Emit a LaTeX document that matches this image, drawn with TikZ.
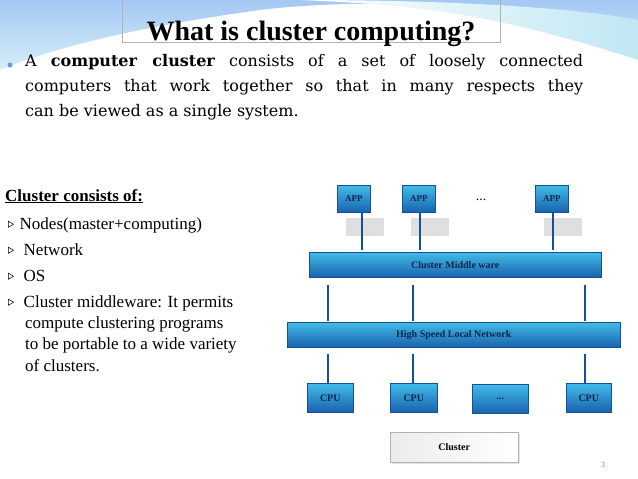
\documentclass[tikz,border=0pt]{standalone}
\usepackage{fontspec}
\setmainfont{Liberation Serif}
\newfontfamily\dvs{DejaVu Serif}
\usetikzlibrary{shadows}
\definecolor{boxblue}{RGB}{30,115,205}
\definecolor{boxdark}{RGB}{20,80,150}
\definecolor{sky}{RGB}{150,215,235}
\tikzset{
  blk/.style={draw=boxdark,line width=0.6pt,top color=boxblue!60!cyan!80!white,bottom color=boxblue!85!black,font=\bfseries\fontsize{10}{11}\selectfont,text=boxdark!50!black,inner sep=0pt},
  app/.style={blk,minimum width=33pt,minimum height=27pt,anchor=north west,font=\bfseries\fontsize{9}{10}\selectfont},
  cpu/.style={blk,minimum height=29pt,anchor=north west},
  bar/.style={blk,minimum height=25pt,anchor=north west},
  link/.style={draw=boxdark,line width=1.5pt},
  shd/.style={fill=gray!25,draw=none}
}
\newcommand{\tri}{\raisebox{1.5pt}{\tikz[x=1pt,y=1pt]\draw[line width=0.5pt] (0,0)--(5,3)--(0,6)--cycle;}}
\begin{document}
\begin{tikzpicture}[x=1pt,y=-1pt]
\useasboundingbox (0,0) rectangle (638,479);
\fill[white] (0,0) rectangle (638,479);
% background swoosh
\shade[top color=sky!80!blue!70,bottom color=sky!40] (0,0) -- (638,0) -- (638,20) .. controls (560,10) and (380,-5) .. (260,10) .. controls (150,25) and (60,45) .. (0,70) -- cycle;
\shade[left color=white,right color=sky!60] (300,0) .. controls (420,5) and (500,15) .. (638,60) -- (638,20) .. controls (560,5) and (420,0) .. (300,0);
\draw[gray!60] (122,0) -- (122,42) -- (500,42) -- (500,0);
\node[font=\bfseries\fontsize{28}{30}\selectfont,anchor=base] (title) at (311,41) {What is cluster computing?};
\fill[sky!70!blue] (10,65) circle (2.5);
\node[anchor=north west,text width=558pt,align=justify,inner sep=0pt,font=\dvs\fontsize{16}{25}\selectfont] (intro) at (25,54)
 {A \textbf{computer cluster} consists of a set of loosely connected\linebreak computers that work together so that in many respects they\linebreak can be viewed as a single system.};
% left list
\node[anchor=base west,inner sep=0pt,font=\bfseries\fontsize{17}{20}\selectfont] (h) at (5,201) {\underline{Cluster consists of:}};
\tikzset{li/.style={anchor=base west,inner sep=0pt,font=\fontsize{17}{20}\selectfont}}
\node[li] (i1) at (8,229) {\tri\hspace{6pt}Nodes(master+computing)};
\node[li] (i2) at (8,255) {\tri\hspace{10pt}Network};
\node[li] (i3) at (8,281) {\tri\hspace{10pt}OS};
\node[li] (i4) at (8,307) {\tri\hspace{10pt}Cluster middleware: It permits};
\node[li] (i5) at (25,328) {compute clustering programs};
\node[li] (i6) at (25,349) {to be portable to a wide variety};
\node[li] (i7) at (25,371) {of clusters.};
% shadows
\fill[shd] (346,218) rectangle (384,236);
\fill[shd] (411,218) rectangle (449,236);
\fill[shd] (544,218) rectangle (582,236);
% apps
\node[app] (a1) at (337,185) {APP};
\node[app] (a2) at (402,185) {APP};
\node[app] (a3) at (535,185) {APP};
\node[font=\fontsize{14}{14}\selectfont] (dots) at (481,200) {...};
\node[bar,minimum width=292pt] (mw) at (309,252) {Cluster Middle ware};
\node[bar,minimum width=333pt] (net) at (287,322) {High Speed Local Network};
\node[cpu,minimum width=46pt] (c1) at (307,383) {CPU};
\node[cpu,minimum width=47pt] (c2) at (390,383) {CPU};
\node[cpu,minimum width=56pt] (c3) at (472,384) {...};
\node[cpu,minimum width=45pt] (c4) at (566,383) {CPU};
\node[draw=gray!60,left color=gray!15,right color=white,minimum width=128pt,minimum height=30pt,anchor=north west,font=\bfseries\fontsize{10}{11}\selectfont,drop shadow={opacity=0.2}] (cl) at (390,432) {Cluster};
\node[font=\fontsize{8}{9}\selectfont,text=gray] (pg) at (603,465) {3};
% links
\draw[link] (362,212) -- (362,250);
\draw[link] (420,212) -- (420,250);
\draw[link] (553,212) -- (553,250);
\draw[link] (328,285) -- (328,321);
\draw[link] (413,285) -- (413,321);
\draw[link] (585,285) -- (585,321);
\draw[link] (328,354) -- (328,383);
\draw[link] (413,354) -- (413,383);
\draw[link] (585,354) -- (585,383);
\end{tikzpicture}
\end{document}
